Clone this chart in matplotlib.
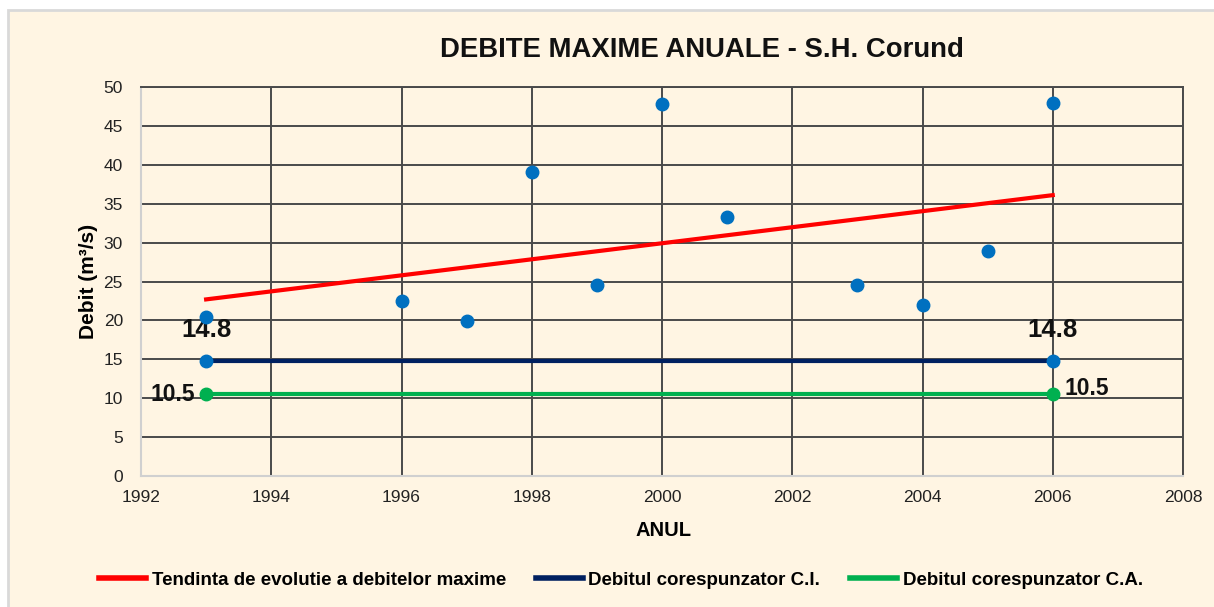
import matplotlib
matplotlib.use("Agg")
import matplotlib.pyplot as plt
from matplotlib.lines import Line2D
from matplotlib.patches import Rectangle

plt.rcParams['font.family'] = ['Liberation Sans', 'DejaVu Sans']

# Data
years = [1993, 1996, 1997, 1998, 1999, 2000, 2001, 2003, 2004, 2005, 2006]
debit_max = [20.4, 22.5, 19.9, 39.1, 24.5, 47.8, 33.3, 24.5, 22.0, 28.9, 47.9]
trend_years = [1993, 2006]
trend_vals = [22.7, 36.1]
ci_years = [1993, 2006]
ci_vals = [14.8, 14.8]
ca_years = [1993, 2006]
ca_vals = [10.5, 10.5]
x_ticks = list(range(1992, 2009, 2))
y_ticks = list(range(0, 51, 5))

BG = '#FFF5E3'
fig = plt.figure(figsize=(12.14, 6.07), dpi=100)
fig.patch.set_facecolor('white')
fig.patches.append(Rectangle((8/1214, -0.05), 1.2, 1.05 - 10/607, transform=fig.transFigure,
                             facecolor=BG, edgecolor='#d9d9d9', linewidth=2, zorder=-5))

ax = fig.add_axes([141/1214, 1 - 476/607, (1183-141)/1214, (476-87)/607])
ax.set_zorder(2)
ax.set_facecolor(BG)
ax.set_xlim(1992, 2008)
ax.set_ylim(0, 50)
ax.set_xticks(x_ticks)
ax.set_yticks(y_ticks)
ax.grid(True, color='#4a4a4a', linewidth=1.4)
ax.set_axisbelow(True)
for s in ['left', 'bottom']:
    ax.spines[s].set_color('#d0d0d0')
    ax.spines[s].set_linewidth(1.5)
for s in ['top', 'right']:
    ax.spines[s].set_color('#4a4a4a')
    ax.spines[s].set_linewidth(1.4)
ax.tick_params(length=0, labelsize=12.5, colors='#222222')
ax.tick_params(axis='y', pad=13)
ax.tick_params(axis='x', pad=10)

ax.plot(trend_years, trend_vals, color='#FF0000', lw=3, zorder=3)
ax.plot(ci_years, ci_vals, color='#002060', lw=3, marker='o', ms=9,
        mfc='#0070C0', mec='#0070C0', zorder=3)
ax.plot(ca_years, ca_vals, color='#00B050', lw=3, marker='o', ms=9,
        mfc='#00B050', mec='#00B050', zorder=3)
ax.plot(years, debit_max, 'o', color='#0070C0', ms=9, zorder=4)

ax.text(ci_years[0], ci_vals[0] + 4.0, '14.8', ha='center', va='center',
        fontsize=18.5, fontweight='bold', color='#111111')
ax.text(ci_years[1], ci_vals[1] + 4.0, '14.8', ha='center', va='center',
        fontsize=18.5, fontweight='bold', color='#111111')
ax.text(ca_years[0] - 0.17, ca_vals[0], '10.5', ha='right', va='center',
        fontsize=16.5, fontweight='bold', color='#111111')
ax.text(ca_years[1] + 0.18, ca_vals[1] + 0.8, '10.5', ha='left', va='center',
        fontsize=16.5, fontweight='bold', color='#111111')

fig.text(702/1214, 1 - 50/607, 'DEBITE MAXIME ANUALE - S.H. Corund', ha='center', va='center',
         fontsize=19.8, fontweight='bold', color='#111111')
ax.set_ylabel('Debit (m³/s)', fontsize=15, fontweight='bold', labelpad=4)
fig.text(663/1214, 1 - 530/607, 'ANUL', ha='center', va='center', fontsize=14.5, fontweight='bold')

handles = [Line2D([], [], color='#FF0000', lw=4),
           Line2D([], [], color='#002060', lw=4),
           Line2D([], [], color='#00B050', lw=4)]
labels = ['Tendinta de evolutie a debitelor maxime', 'Debitul corespunzator C.I.',
          'Debitul corespunzator C.A.']
fig.legend(handles, labels, loc='center', bbox_to_anchor=(621/1214, 1 - 580/607), ncol=3,
           frameon=False, prop={'weight': 'bold', 'size': 13.5}, handlelength=2.5,
           handletextpad=0.3, columnspacing=1.6)

fig.savefig('out.png', dpi=100, facecolor=fig.get_facecolor())
